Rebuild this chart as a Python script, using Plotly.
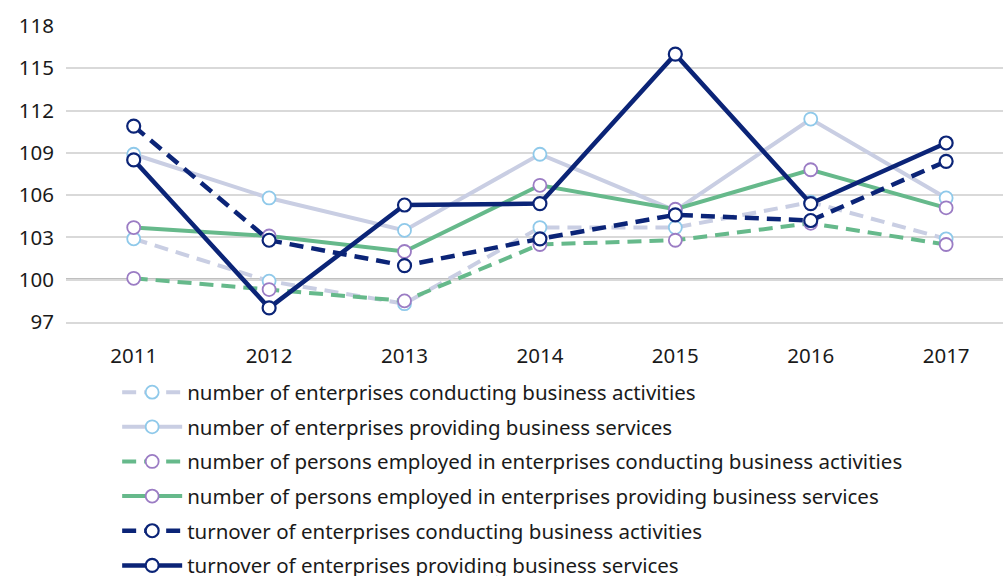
import plotly.graph_objects as go

years = ["2011", "2012", "2013", "2014", "2015", "2016", "2017"]

ent_conducting = [102.9, 99.9, 98.3, 103.7, 103.7, 105.5, 102.9]
ent_providing = [108.9, 105.8, 103.5, 108.9, 104.9, 111.4, 105.8]
pers_conducting = [100.1, 99.3, 98.5, 102.5, 102.8, 104.0, 102.5]
pers_providing = [103.7, 103.1, 102.0, 106.7, 105.0, 107.8, 105.1]
turn_conducting = [110.9, 102.8, 101.0, 102.9, 104.6, 104.2, 108.4]
turn_providing = [108.5, 98.0, 105.3, 105.4, 116.0, 105.4, 109.7]

y_ticks = [97, 100, 103, 106, 109, 112, 115, 118]

LAV = "#c9cee3"
SKY = "#8fc9ea"
GREEN = "#66b98b"
PURPLE = "#9b7cc4"
NAVY = "#0b2477"

series = [
    ("number of enterprises conducting business activities", ent_conducting, LAV, SKY, "dash"),
    ("number of enterprises providing business services", ent_providing, LAV, SKY, "solid"),
    ("number of persons employed in enterprises conducting business activities", pers_conducting, GREEN, PURPLE, "dash"),
    ("number of persons employed in enterprises providing business services", pers_providing, GREEN, PURPLE, "solid"),
    ("turnover of enterprises conducting business activities", turn_conducting, NAVY, NAVY, "dash"),
    ("turnover of enterprises providing business services", turn_providing, NAVY, NAVY, "solid"),
]

fig = go.Figure()
for i, (name, vals, lc, mc, dash) in enumerate(series):
    fig.add_trace(go.Scatter(
        x=years, y=vals, name=name, mode="lines+markers", legendgroup=str(i),
        line=dict(color=lc, width=4.5 if lc == NAVY else 4,
                  dash="14px,8px" if dash == "dash" else "solid"),
        marker=dict(symbol="circle", size=13, color="white",
                    line=dict(color=mc, width=2.2 if mc == NAVY else 1.8))))

# reference line at 100
fig.add_shape(type="line", xref="paper", x0=0, x1=1, yref="y", y0=100, y1=100,
              line=dict(color="black", width=2), layer="below")

fig.update_layout(
    width=1003, height=576,
    margin=dict(l=66, r=0, t=26, b=254, autoexpand=False),
    plot_bgcolor="white", paper_bgcolor="white",
    font=dict(family="Noto Sans", size=20.5, color="#1a1a1a"),
    xaxis=dict(type="category", range=[-0.5, 6.42], showgrid=False,
               showline=True, linecolor="#d9d9d9", linewidth=1.5,
               ticks="", tickfont=dict(size=20.5), ticklabelstandoff=15),
    yaxis=dict(range=[97, 118], tickvals=y_ticks, showgrid=True, gridcolor="#d9d9d9",
               gridwidth=1.5, zeroline=False, showline=False, ticks="", ticklabelstandoff=11,
               tickfont=dict(size=20.5)),
    showlegend=True,
    legend=dict(orientation="v", x=0.0546, xanchor="left", y=-0.17, yanchor="top",
                font=dict(size=20.5), tracegroupgap=5, itemwidth=60,
                bgcolor="rgba(0,0,0,0)"),
)

fig.write_html("out.html", config={"displayModeBar": False},
               post_script="document.body.style.margin='0';")
